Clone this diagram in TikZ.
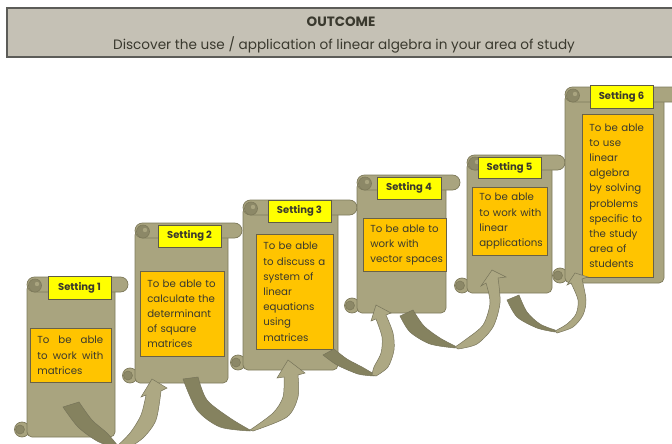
\documentclass[tikz,border=0pt]{standalone}
\usepackage{fontspec}
\setmainfont{Poppins}
\definecolor{scrollc}{HTML}{A9A47F}
\definecolor{scrolledge}{HTML}{7E7A5B}
\definecolor{curlc}{HTML}{8C8867}
\definecolor{tagc}{HTML}{FFFF00}
\definecolor{tagedge}{HTML}{5E5B45}
\definecolor{notec}{HTML}{FFC400}
\definecolor{noteedge}{HTML}{6A6246}
\definecolor{inkc}{HTML}{3A392E}
\definecolor{bannerc}{HTML}{C5C1B5}
\definecolor{banneredge}{HTML}{5C5C58}
\definecolor{taildark}{HTML}{85825F}
\definecolor{headlight}{HTML}{ADA883}
\definecolor{arrowedge}{HTML}{77745A}

\tikzset{
  scrollbody/.style={fill=scrollc, draw=scrolledge, line width=0.7pt},
  curl/.style={fill=curlc, draw=scrolledge, line width=0.6pt},
  tagbox/.style={draw=tagedge, fill=tagc, line width=0.6pt, inner sep=0pt,
    text=inkc, font=\bfseries\fontsize{10}{11}\selectfont},
  notebox/.style={draw=noteedge, fill=notec, line width=0.6pt, inner xsep=7pt,
    inner ysep=0pt, text=inkc, align=left, anchor=north west,
    font=\fontsize{10.2}{15.2}\selectfont},
  tailpart/.style={fill=taildark, draw=arrowedge, line width=0.5pt},
  headpart/.style={fill=headlight, draw=arrowedge, line width=0.5pt},
}

% one unbroken line of a note
\newcommand\noteline[1]{\mbox{#1}}
% one line set to a given width (words separated by \hfill)
\newcommand\fullline[2]{\leavevmode\hbox to #1{#2}}

% #1 left, #2 right, #3 top, #4 bottom, #5 right end of the top roll
\newcommand\drawscroll[5]{%
  \filldraw[scrollbody] ({#1-5},{#4-7.5}) circle[radius=7.5];
  \filldraw[curl] ({#1-7},{#4-7.5}) circle[radius=4.5];
  \filldraw[scrollbody, rounded corners=5] (#1,{#3+7}) -- (#1,#4) -- (#2,#4) -- (#2,{#3+7}) -- cycle;
  \filldraw[scrollbody, rounded corners=7.5] (#1,#3) rectangle (#5,{#3+15});
  \filldraw[curl] ({#1+8},{#3+8.5}) circle[radius=6.5];
  \fill[scrollc] ({#1+10},{#3+7}) circle[radius=2.2];
}

\begin{document}
\begin{tikzpicture}[x=1pt,y=-1pt]
\useasboundingbox (0,0) rectangle (672,444);

% banner
\filldraw[fill=bannerc, draw=banneredge, line width=1.4pt] (7,8) rectangle (690,57);
\node[font=\bfseries\fontsize{13.5}{15}\selectfont, text=inkc] (title) at (341,22) {OUTCOME};
\node[font=\fontsize{13.6}{15}\selectfont, text=inkc] (goal) at (344,45)
  {Discover the use / application of linear algebra in your area of study};

% scroll 1
\drawscroll{27}{115}{277}{437}{128}
\node[tagbox, minimum width=63, minimum height=23] (tag1) at (79.5,287.5) {Setting 1};
\node[notebox, text width=67, minimum height=54] (note1) at (30,328)
  {\fullline{66pt}{To\hfill be\hfill able}\\\fullline{66pt}{to\hfill work\hfill with}\\\noteline{matrices}};

% scroll 2
\drawscroll{135}{228}{223}{383}{242}
\node[tagbox, minimum width=63, minimum height=22] (tag2) at (189.5,236) {Setting 2};
\node[notebox, text width=70, minimum height=85] (note2) at (140,271)
  {\noteline{To be able to}\\\noteline{calculate the}\\\noteline{determinant}\\\noteline{of square}\\\noteline{matrices}};

% scroll 3
\drawscroll{243}{338}{200}{370}{357}
\node[tagbox, minimum width=63, minimum height=22] (tag3) at (299.5,211) {Setting 3};
\node[notebox, text width=63, minimum height=115] (note3) at (256,234)
  {\noteline{To be able}\\\noteline{to discuss a}\\\noteline{system of}\\\noteline{linear}\\\noteline{equations}\\\noteline{using}\\\noteline{matrices}};

% scroll 4
\drawscroll{357}{446}{175}{313}{460}
\node[tagbox, minimum width=64, minimum height=22] (tag4) at (409,188) {Setting 4};
\node[notebox, text width=69, minimum height=53] (note4) at (363,218)
  {\noteline{To be able to}\\\noteline{work with}\\\noteline{vector spaces}};

% scroll 5
\drawscroll{467}{552}{155}{293}{565}
\node[tagbox, minimum width=63, minimum height=21] (tag5) at (509.5,167.5) {Setting 5};
\node[notebox, text width=61, minimum height=68] (note5) at (472,187)
  {\noteline{To be able}\\\noteline{to work with}\\\noteline{linear}\\\noteline{applications}};

% scroll 6
\drawscroll{565}{664}{87}{283}{690}
\node[tagbox, minimum width=63, minimum height=23] (tag6) at (621.5,96.5) {Setting 6};
\node[notebox, text width=57, minimum height=163] (note6) at (582,114)
  {\noteline{To be able}\\\noteline{to use}\\\noteline{linear}\\\noteline{algebra}\\\noteline{by solving}\\\noteline{problems}\\\noteline{specific to}\\\noteline{the study}\\\noteline{area of}\\\noteline{students}};

% curved arrows from one scroll to the next
% 1 -> 2
\filldraw[tailpart] plot[smooth] coordinates {(63,407) (78,427) (97,441) (115,448)}
  -- plot[smooth] coordinates {(118,446) (107,433) (92,420) (79,402)} -- cycle;
\filldraw[headpart] plot[smooth] coordinates {(146,395) (141,415) (130,433) (115,448)}
  -- plot[smooth] coordinates {(125,450) (143,438) (156,420) (161,391)}
  -- (167,388) -- (152,379) -- (141,397) -- cycle;
% 2 -> 3
\filldraw[tailpart] plot[smooth] coordinates {(183,379) (197,410) (220,427) (250,431)}
  -- plot[smooth] coordinates {(250,430) (230,418) (207,400) (198,377)} -- cycle;
\filldraw[headpart] plot[smooth] coordinates {(284,377) (283,397) (273,413) (250,430)}
  -- plot[smooth] coordinates {(253,431) (287,417) (298,397) (298,375)}
  -- (305,373) -- (288,360) -- (277,378) -- cycle;
% 3 -> 4
\filldraw[tailpart] plot[smooth] coordinates {(323,355) (337,365) (358,374) (374,376)}
  -- plot[smooth] coordinates {(374,374) (362,367) (347,359) (334,349)} -- cycle;
\filldraw[headpart] plot[smooth] coordinates {(376,319) (382,337) (381,353) (374,367) (372,375)}
  -- plot[smooth] coordinates {(376,376) (388,367) (394,350) (393,333) (386,315)}
  -- (391,313) -- (376,305) -- (371,321) -- cycle;
% 4 -> 5
\filldraw[tailpart] plot[smooth] coordinates {(400,316) (410,332) (430,344) (455,348)}
  -- plot[smooth] coordinates {(455,346) (440,338) (424,326) (413,310)} -- cycle;
\filldraw[headpart] plot[smooth] coordinates {(486,283) (490,303) (483,325) (465,340) (455,347)}
  -- plot[smooth] coordinates {(458,349) (477,344) (493,327) (500,303) (498,278)}
  -- (506,277) -- (492,270) -- (481,286) -- cycle;
% 5 -> 6
\filldraw[tailpart] plot[smooth] coordinates {(507,300) (517,317) (537,328) (555,332)}
  -- plot[smooth] coordinates {(555,330) (540,324) (527,312) (519,295)} -- cycle;
\filldraw[headpart] plot[smooth] coordinates {(571,283) (578,300) (576,314) (567,324) (555,331)}
  -- plot[smooth] coordinates {(557,333) (573,327) (583,315) (586,300) (582,279)}
  -- (588,277) -- (575,273) -- (567,285) -- cycle;
\end{tikzpicture}
\end{document}
